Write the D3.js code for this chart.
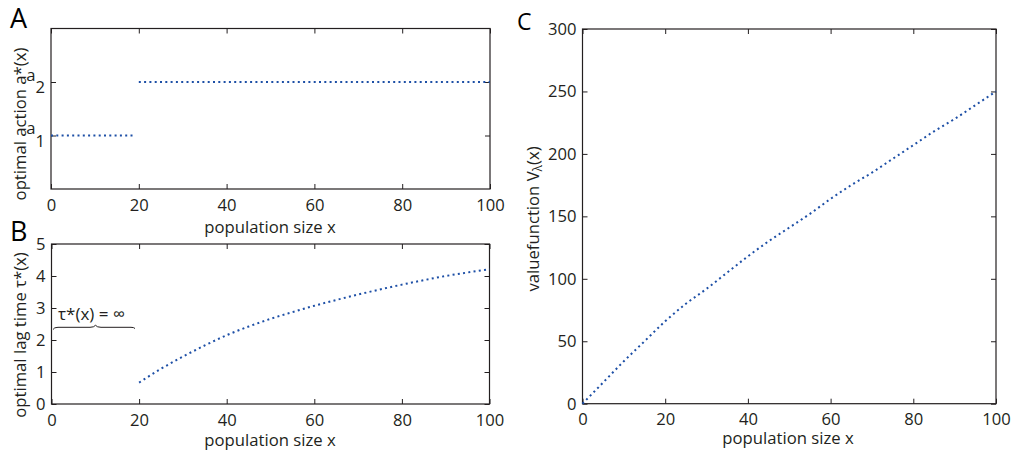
<!DOCTYPE html>
<html><head><meta charset="utf-8">
<script src="https://cdn.jsdelivr.net/npm/d3@7"></script>
<style>
body{margin:0;background:#fff;}
svg{display:block;font-family:"Open Sans",sans-serif;}
.axis path,.axis line{stroke:#231f20;}
.axis text{fill:#231f20;font-size:16.6px;font-family:"Open Sans",sans-serif;}
</style></head><body>
<svg id="c" width="1012" height="457"></svg>
<script>
// Panel A: optimal action
const aX1 = [0, 19];          const aY1 = [1, 1];
const aX2 = [20, 100];        const aY2 = [2, 2];
const aTicks = [1, 2];
const aTickLabels = ["1", "2"];
// Panel B: optimal lag time
const bX = [20,25,30,35,40,45,50,55,60,65,70,75,80,85,90,95,100];
const bY = [0.67,1.10,1.48,1.83,2.15,2.42,2.66,2.87,3.07,3.25,3.42,3.58,3.73,3.87,4.00,4.11,4.21];
const bTicks = [0,1,2,3,4,5];
// Panel C: value function
const cX = [0,5,10,15,20,25,30,35,40,45,50,55,60,65,70,75,80,85,90,95,100];
const cY = [0,17,34,50,66,80,92,105,118,130,141,152,164,175,185,196,207,218,228,239,250];
const cTicks = [0,50,100,150,200,250,300];
const xTicks = [0,20,40,60,80,100];

const svg = d3.select("#c");
const blue = "#1d4fa6";
const dark = "#231f20";
const FS = 16.7;

function panel(box, xDom, yDom, yTicks, yFmt){
  const x = d3.scaleLinear().domain(xDom).range([box.l, box.r]);
  const y = d3.scaleLinear().domain(yDom).range([box.b, box.t]);
  const g = svg.append("g");
  g.append("g").attr("class","axis").attr("transform",`translate(0,${box.b})`)
    .call(d3.axisBottom(x).tickValues(xTicks).tickSize(-5).tickPadding(10).tickSizeOuter(0));
  g.append("g").attr("class","axis").attr("transform",`translate(0,${box.t})`)
    .call(d3.axisTop(x).tickValues(xTicks).tickSize(-5).tickFormat("").tickSizeOuter(0));
  g.append("g").attr("class","axis").attr("transform",`translate(${box.l},0)`)
    .call(d3.axisLeft(y).tickValues(yTicks).tickSize(-5).tickPadding(6).tickSizeOuter(0).tickFormat(yFmt));
  g.append("g").attr("class","axis").attr("transform",`translate(${box.r},0)`)
    .call(d3.axisRight(y).tickValues(yTicks).tickSize(-5).tickFormat("").tickSizeOuter(0));
  g.selectAll(".axis .domain").remove();
  g.append("rect").attr("x",box.l).attr("y",box.t).attr("width",box.r-box.l).attr("height",box.b-box.t)
    .attr("fill","none").attr("stroke",dark).attr("stroke-width",1.2);
  return {x,y,g};
}
function dotted(p, xs, ys){
  const line = d3.line().x((d,i)=>p.x(xs[i])).y((d,i)=>p.y(ys[i])).curve(d3.curveMonotoneX);
  p.g.append("path").attr("d", line(xs)).attr("fill","none").attr("stroke",blue)
    .attr("stroke-width",2).attr("stroke-dasharray","2,3.3");
}

// A
const A = panel({l:51,r:490,t:28.5,b:189}, [0,100], [0,3], aTicks, ()=> "");
dotted(A, aX1, aY1); dotted(A, aX2, aY2);
aTicks.forEach((v,i)=>{
  const t = A.g.append("text").attr("x",45).attr("y",A.y(v)-1.5).attr("text-anchor","end")
    .attr("font-size",FS).attr("fill",dark);
  t.append("tspan").text("a");
  t.append("tspan").attr("dy",12.5).text(aTickLabels[i]);
});
// B
const B = panel({l:51.5,r:489.5,t:244,b:404}, [0,100], [0,5], bTicks, d3.format("d"));
dotted(B, bX, bY);
// C
const C = panel({l:582.5,r:996,t:29,b:403.7}, [0,100], [0,300], cTicks, d3.format("d"));
dotted(C, cX, cY);

// annotation in B
svg.append("text").attr("x",58).attr("y",320).attr("font-size",17).attr("fill",dark)
  .text("τ*(x) = ∞");
svg.append("path").attr("d","M53,329.5 Q54,327.3 58,327.3 L90,327.3 Q94,327.3 95.5,325.3 Q97,327.3 101,327.3 L131,327.3 Q134,327.3 135,328.5")
  .attr("fill","none").attr("stroke",dark).attr("stroke-width",1);

// axis titles
function xt(x,y,s){ svg.append("text").attr("x",x).attr("y",y).attr("text-anchor","middle")
  .attr("font-size",FS).attr("fill",dark).text(s); }
xt(270,232.5,"population size x");
xt(270,446,"population size x");
xt(788,443.5,"population size x");
function yt(x,y,s){ return svg.append("text").attr("transform",`translate(${x},${y}) rotate(-90)`)
  .attr("text-anchor","middle").attr("font-size",FS).attr("fill",dark).text(s); }
yt(26,124,"optimal action a*(x)");
yt(26,335,"optimal lag time  τ*(x)");
const ct = svg.append("text").attr("transform","translate(539,219) rotate(-90)")
  .attr("text-anchor","middle").attr("font-size",FS).attr("fill",dark);
ct.append("tspan").text("valuefunction V");
ct.append("tspan").attr("dy",3).attr("font-size",12).text("λ");
ct.append("tspan").attr("dy",-3).text("(x)");

// panel letters
svg.append("text").attr("x",10).attr("y",28).attr("font-size",27).attr("fill","#000").text("A");
svg.append("text").attr("x",10).attr("y",241).attr("font-size",27).attr("fill","#000").text("B");
svg.append("text").attr("x",517).attr("y",29.5).attr("font-size",23).attr("fill","#000").text("C");
</script></body></html>
